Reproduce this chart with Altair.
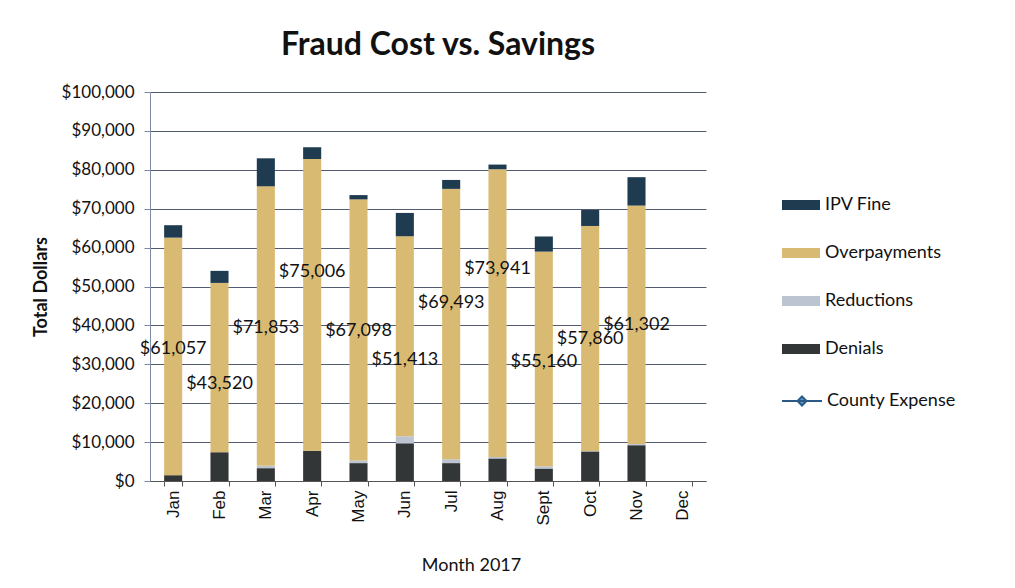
import altair as alt
import pandas as pd

months = ["Jan", "Feb", "Mar", "Apr", "May", "Jun", "Jul", "Aug", "Sept", "Oct", "Nov", "Dec"]
denials = [1500, 7400, 3300, 7800, 4600, 9700, 4600, 5800, 3200, 7600, 9200, None]
reductions = [0, 0, 600, 0, 700, 1800, 1000, 400, 600, 100, 300, None]
overpayments = [61057, 43520, 71853, 75006, 67098, 51413, 69493, 73941, 55160, 57860, 61302, None]
ipv_fine = [3200, 3100, 7200, 3000, 1100, 6000, 2300, 1200, 3900, 4100, 7300, None]
county_expense = [None] * 12
# dollar level at which each overpayment data label sits (as moved in the original)
label_level = [34000, 24900, 39400, 53600, 38600, 31000, 45800, 54600, 30600, 36400, 40000, None]
y_ticks = [0, 10000, 20000, 30000, 40000, 50000, 60000, 70000, 80000, 90000, 100000]

series_names = ["IPV Fine", "Overpayments", "Reductions", "Denials"]
series_colors = ["#1f3b50", "#d9ba72", "#bcc4d2", "#333637"]

rows = []
for stack_idx, (name, vals) in enumerate(
    [("Denials", denials), ("Reductions", reductions), ("Overpayments", overpayments), ("IPV Fine", ipv_fine)]
):
    for m, v in zip(months, vals):
        if v is not None:
            rows.append({"Month": m, "Series": name, "Value": v, "StackOrder": stack_idx})
df_bars = pd.DataFrame(rows)

df_labels = pd.DataFrame(
    [{"Month": m, "Overpayments": o, "Level": l} for m, o, l in zip(months, overpayments, label_level) if o is not None]
)
df_line = pd.DataFrame({"Month": months, "County": county_expense, "Series": ["County Expense"] * 12})

FONT = "Lato"

x_scale = alt.Scale(domain=months, paddingInner=0.61, paddingOuter=0.305)
x_axis = alt.Axis(
    title="Month 2017",
    titleFont=FONT,
    titleFontSize=18,
    titleFontWeight="normal",
    titleColor="#111111",
    titleX=321,
    titlePadding=32,
    labelAngle=270,
    labelFont="Liberation Sans",
    labelFontSize=17,
    labelColor="#111111",
    labelPadding=4,
    tickBand="extent",
    tickSize=5,
    tickColor="#555555",
    domainColor="#555555",
    grid=False,
)

y_scale = alt.Scale(domain=[0, 100000])
y_axis = alt.Axis(
    title="Total Dollars",
    titleFont=FONT,
    titleFontSize=18,
    titleFontWeight="bold",
    titleColor="#111111",
    titlePadding=11,
    values=y_ticks,
    format="$,.0f",
    labelOverlap=False,
    labelFont=FONT,
    labelFontSize=17,
    labelColor="#111111",
    labelPadding=10,
    tickSize=6,
    tickColor="#7f8aa6",
    domainColor="#7f8aa6",
    gridColor="#545a70",
    gridWidth=1,
)

bars = (
    alt.Chart(df_bars)
    .mark_bar()
    .encode(
        x=alt.X("Month:N", sort=months, scale=x_scale, axis=x_axis),
        y=alt.Y("Value:Q", stack="zero", scale=y_scale, axis=y_axis),
        color=alt.Color(
            "Series:N",
            scale=alt.Scale(domain=series_names, range=series_colors),
            legend=alt.Legend(
                title=None,
                orient="none",
                legendX=641,
                legendY=103,
                padding=0,
                symbolType="M-1.9,-0.5H1.9V0.5H-1.9Z",
                symbolSize=400,
                symbolStrokeWidth=0,
                labelFont=FONT,
                labelFontSize=18,
                labelColor="#111111",
                labelOffset=14,
                rowPadding=29,
            ),
        ),
        order=alt.Order("StackOrder:Q", sort="ascending"),
    )
)

labels = (
    alt.Chart(df_labels)
    .mark_text(font=FONT, fontSize=18, color="#111111")
    .encode(
        x=alt.X("Month:N", sort=months, scale=x_scale, axis=x_axis),
        y=alt.Y("Level:Q", scale=y_scale, axis=y_axis),
        text=alt.Text("Overpayments:Q", format="$,.0f"),
    )
)

line = (
    alt.Chart(df_line)
    .mark_line(strokeWidth=2)
    .encode(
        x=alt.X("Month:N", sort=months, scale=x_scale, axis=x_axis),
        y=alt.Y("County:Q", scale=y_scale, axis=y_axis),
        stroke=alt.Stroke(
            "Series:N",
            scale=alt.Scale(domain=["County Expense"], range=["#2c5a86"]),
            legend=alt.Legend(
                title=None,
                orient="none",
                legendX=641,
                legendY=298,
                padding=0,
                symbolType="M-2,0H2M0,-0.45L0.45,0L0,0.45L-0.45,0Z",
                symbolSize=400,
                symbolStrokeWidth=2,
                symbolFillColor="#5b9bd5",
                labelFont=FONT,
                labelFontSize=18,
                labelColor="#111111",
                labelOffset=14,
            ),
        ),
    )
)

chart = (
    alt.layer(bars, labels, line)
    .properties(
        width=556,
        height=389,
        title=alt.Title(
            "Fraud Cost vs. Savings",
            font=FONT,
            fontSize=32,
            fontWeight="bold",
            color="#111111",
            anchor="middle",
            dx=10,
            offset=21,
        ),
        padding={"left": 24, "top": 21, "right": 10, "bottom": 10},
    )
    .configure_view(stroke="transparent")
)

chart.save("out.html", embed_options={"renderer": "svg", "actions": False})
